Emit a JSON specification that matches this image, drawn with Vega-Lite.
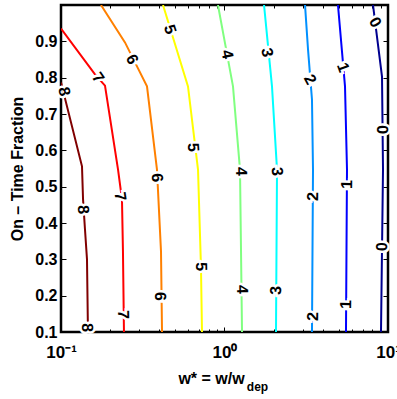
{
  "$schema": "https://vega.github.io/schema/vega-lite/v6.json",
  "width": 327,
  "height": 327,
  "autosize": "none",
  "padding": {"left": 61, "top": 5, "right": 9, "bottom": 67},
  "background": "white",
  "config": {
    "view": {"stroke": "black", "strokeWidth": 2.5},
    "font": "Liberation Sans",
    "axis": {"domain": false, "grid": false, "tickColor": "black", "labelColor": "black", "titleColor": "black"}
  },
  "datasets": {
    "contours": [
      {"level": 8, "i": 0, "w": 0.1, "f": 0.787},
      {"level": 8, "i": 1, "w": 0.1344, "f": 0.556},
      {"level": 8, "i": 2, "w": 0.1364, "f": 0.465},
      {"level": 8, "i": 3, "w": 0.1402, "f": 0.382},
      {"level": 8, "i": 4, "w": 0.1442, "f": 0.3},
      {"level": 8, "i": 5, "w": 0.1462, "f": 0.1},
      {"level": 7, "i": 0, "w": 0.1, "f": 0.935},
      {"level": 7, "i": 1, "w": 0.1614, "f": 0.809},
      {"level": 7, "i": 2, "w": 0.1858, "f": 0.778},
      {"level": 7, "i": 3, "w": 0.2233, "f": 0.547},
      {"level": 7, "i": 4, "w": 0.236, "f": 0.465},
      {"level": 7, "i": 5, "w": 0.2393, "f": 0.322},
      {"level": 7, "i": 6, "w": 0.2427, "f": 0.1},
      {"level": 6, "i": 0, "w": 0.1756, "f": 1.0},
      {"level": 6, "i": 1, "w": 0.2462, "f": 0.897},
      {"level": 6, "i": 2, "w": 0.3357, "f": 0.776},
      {"level": 6, "i": 3, "w": 0.3864, "f": 0.547},
      {"level": 6, "i": 4, "w": 0.4089, "f": 0.322},
      {"level": 6, "i": 5, "w": 0.4148, "f": 0.1},
      {"level": 5, "i": 0, "w": 0.4206, "f": 1.0},
      {"level": 5, "i": 1, "w": 0.598, "f": 0.776},
      {"level": 5, "i": 2, "w": 0.6887, "f": 0.547},
      {"level": 5, "i": 3, "w": 0.7178, "f": 0.28},
      {"level": 5, "i": 4, "w": 0.7284, "f": 0.1},
      {"level": 4, "i": 0, "w": 0.912, "f": 1.0},
      {"level": 4, "i": 1, "w": 1.127, "f": 0.776},
      {"level": 4, "i": 2, "w": 1.244, "f": 0.547},
      {"level": 4, "i": 3, "w": 1.28, "f": 0.1},
      {"level": 3, "i": 0, "w": 1.745, "f": 1.0},
      {"level": 3, "i": 1, "w": 1.952, "f": 0.776},
      {"level": 3, "i": 2, "w": 2.095, "f": 0.547},
      {"level": 3, "i": 3, "w": 2.065, "f": 0.1},
      {"level": 2, "i": 0, "w": 3.108, "f": 1.0},
      {"level": 2, "i": 1, "w": 3.242, "f": 0.878},
      {"level": 2, "i": 2, "w": 3.428, "f": 0.74},
      {"level": 2, "i": 3, "w": 3.478, "f": 0.547},
      {"level": 2, "i": 4, "w": 3.428, "f": 0.1},
      {"level": 1, "i": 0, "w": 4.943, "f": 1.0},
      {"level": 1, "i": 1, "w": 5.458, "f": 0.776},
      {"level": 1, "i": 2, "w": 5.613, "f": 0.547},
      {"level": 1, "i": 3, "w": 5.534, "f": 0.1},
      {"level": 0, "i": 0, "w": 8.095, "f": 1.0},
      {"level": 0, "i": 1, "w": 9.19, "f": 0.803},
      {"level": 0, "i": 2, "w": 9.32, "f": 0.547},
      {"level": 0, "i": 3, "w": 9.06, "f": 0.1}
    ],
    "labels": [
      {"text": "8", "w": 0.1043, "f": 0.762, "angle": 78},
      {"text": "8", "w": 0.1364, "f": 0.437, "angle": 86},
      {"text": "8", "w": 0.1442, "f": 0.112, "angle": 89},
      {"text": "7", "w": 0.1684, "f": 0.8, "angle": 55},
      {"text": "7", "w": 0.2296, "f": 0.473, "angle": 82},
      {"text": "7", "w": 0.2394, "f": 0.148, "angle": 89},
      {"text": "6", "w": 0.2718, "f": 0.85, "angle": 63},
      {"text": "6", "w": 0.3865, "f": 0.525, "angle": 87},
      {"text": "6", "w": 0.4031, "f": 0.198, "angle": 89},
      {"text": "5", "w": 0.4642, "f": 0.933, "angle": 72},
      {"text": "5", "w": 0.6418, "f": 0.608, "angle": 86},
      {"text": "5", "w": 0.7178, "f": 0.28, "angle": 89},
      {"text": "4", "w": 1.036, "f": 0.864, "angle": 78},
      {"text": "4", "w": 1.261, "f": 0.542, "angle": 89},
      {"text": "4", "w": 1.28, "f": 0.217, "angle": 89},
      {"text": "3", "w": 1.82, "f": 0.869, "angle": 80},
      {"text": "3", "w": 2.095, "f": 0.542, "angle": 87},
      {"text": "3", "w": 2.065, "f": 0.214, "angle": -89},
      {"text": "2", "w": 3.334, "f": 0.795, "angle": 62},
      {"text": "2", "w": 3.478, "f": 0.473, "angle": -89},
      {"text": "2", "w": 3.478, "f": 0.143, "angle": -89},
      {"text": "1", "w": 5.306, "f": 0.828, "angle": 70},
      {"text": "1", "w": 5.613, "f": 0.506, "angle": -89},
      {"text": "1", "w": 5.534, "f": 0.176, "angle": -89},
      {"text": "0", "w": 8.328, "f": 0.952, "angle": 60},
      {"text": "0", "w": 9.19, "f": 0.657, "angle": 89},
      {"text": "0", "w": 9.19, "f": 0.335, "angle": -89}
    ]
  },
  "layer": [
    {
      "data": {"name": "contours"},
      "mark": {"type": "line", "strokeWidth": 2, "clip": true},
      "encoding": {
        "x": {
          "field": "w", "type": "quantitative",
          "scale": {"type": "log", "domain": [0.1, 10], "nice": false},
          "axis": {
            "orient": "bottom",
            "values": [0.1, 0.2, 0.3, 0.4, 0.5, 0.6, 0.7, 0.8, 0.9, 1, 2, 3, 4, 5, 6, 7, 8, 9, 10],
            "labelExpr": "datum.value == 0.1 ? '10⁻¹' : datum.value == 1 ? '10⁰' : datum.value == 10 ? '10¹' : ''",
            "tickSize": {"condition": {"test": "datum.value == 0.1 || datum.value == 1 || datum.value == 10", "value": -5}, "value": -3},
            "labelFont": "Liberation Sans", "labelFontWeight": "bold", "labelFontSize": 17,
            "labelPadding": 17, "labelOverlap": false, "labelFlush": false,
            "title": "w* = w/w", "titleFont": "Liberation Sans", "titleFontWeight": "bold", "titleFontSize": 16,
            "titleX": 150, "titleY": 51, "titleAlign": "center", "titleBaseline": "alphabetic"
          }
        },
        "y": {
          "field": "f", "type": "quantitative",
          "scale": {"domain": [0.1, 1.0], "nice": false, "zero": false},
          "axis": {
            "orient": "left",
            "values": [0.1, 0.2, 0.3, 0.4, 0.5, 0.6, 0.7, 0.8, 0.9],
            "format": ".1f",
            "tickSize": -5,
            "labelFont": "Liberation Sans", "labelFontWeight": "bold", "labelFontSize": 16,
            "labelPadding": 9,
            "title": "On – Time Fraction", "titleFont": "Liberation Sans", "titleFontWeight": "bold", "titleFontSize": 16,
            "titlePadding": 9
          }
        },
        "color": {
          "field": "level", "type": "ordinal",
          "scale": {"domain": [0, 1, 2, 3, 4, 5, 6, 7, 8], "range": ["#00008f", "#0000ff", "#0090ff", "#00ffff", "#80ff80", "#ffff00", "#ff8000", "#ff0000", "#800000"]},
          "legend": null
        },
        "order": {"field": "i", "type": "quantitative"}
      }
    },
    {
      "data": {"name": "labels"},
      "mark": {"type": "text", "fill": "white", "stroke": "white", "strokeWidth": 5, "font": "Liberation Sans", "fontWeight": "bold", "fontSize": 16, "align": "center", "baseline": "middle"},
      "encoding": {
        "x": {
          "field": "w", "type": "quantitative",
          "axis": {
            "orient": "top",
            "values": [0.1, 0.2, 0.3, 0.4, 0.5, 0.6, 0.7, 0.8, 0.9, 1, 2, 3, 4, 5, 6, 7, 8, 9, 10],
            "labels": false, "title": null,
            "tickSize": {"condition": {"test": "datum.value == 0.1 || datum.value == 1 || datum.value == 10", "value": -5}, "value": -3}
          }
        },
        "y": {
          "field": "f", "type": "quantitative",
          "axis": {"orient": "right", "values": [0.1, 0.2, 0.3, 0.4, 0.5, 0.6, 0.7, 0.8, 0.9], "labels": false, "title": null, "tickSize": -5}
        },
        "text": {"field": "text"},
        "angle": {"field": "angle", "type": "quantitative", "scale": null}
      }
    },
    {
      "data": {"name": "labels"},
      "mark": {"type": "text", "fill": "black", "font": "Liberation Sans", "fontWeight": "bold", "fontSize": 16, "align": "center", "baseline": "middle"},
      "encoding": {
        "x": {
          "field": "w", "type": "quantitative",
          "axis": {
            "orient": "bottom", "labels": false, "ticks": false, "domain": false,
            "title": "dep", "titleFont": "Liberation Sans", "titleFontWeight": "bold", "titleFontSize": 12,
            "titleX": 196, "titleY": 58, "titleAlign": "center", "titleBaseline": "alphabetic"
          }
        },
        "y": {"field": "f", "type": "quantitative", "axis": null},
        "text": {"field": "text"},
        "angle": {"field": "angle", "type": "quantitative", "scale": null}
      }
    }
  ],
  "resolve": {"axis": {"x": "independent", "y": "independent"}}
}
